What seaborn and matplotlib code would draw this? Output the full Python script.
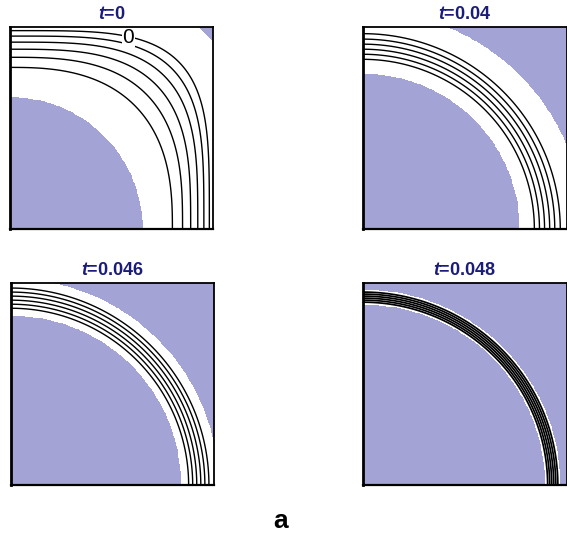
import numpy as np
import matplotlib
matplotlib.use("Agg")
import matplotlib.pyplot as plt
import seaborn as sns

# ---- data ----
time_labels = ["0", "0.04", "0.046", "0.048"]
contour_levels = [
    [0.80, 0.85, 0.89, 0.925, 0.955, 0.982],
    [0.84, 0.865, 0.89, 0.915, 0.94, 0.967],
    [0.875, 0.895, 0.915, 0.935, 0.955, 0.975],
    [0.905, 0.915, 0.925, 0.935, 0.945, 0.955],
]
# superellipse exponent of each level line (2 = circle)
line_exponents = [
    [2.6, 2.9, 3.2, 3.5, 3.8, 4.1],
    [2.0, 2.0, 2.0, 2.0, 2.0, 2.0],
    [2.0, 2.0, 2.0, 2.0, 2.0, 2.0],
    [2.0, 2.0, 2.0, 2.0, 2.0, 2.0],
]
inner_radius = [0.65, 0.765, 0.835, 0.89]
outer_radius = [1.366, 1.085, 1.024, 0.97]
level_label = "0"
panel_label = "a"

sns.set_theme(style="white")
plt.rcParams["font.family"] = ["Liberation Sans", "DejaVu Sans"]
plt.rcParams["mathtext.fontset"] = "custom"
plt.rcParams["mathtext.it"] = "Liberation Sans:italic:bold"
plt.rcParams["mathtext.rm"] = "Liberation Sans:bold"

W, H = 567, 534
fig = plt.figure(figsize=(W / 100, H / 100), dpi=100)
fig.patch.set_facecolor("white")

# axes boxes in pixels: (left, top, width, height)
boxes = [(10, 27, 203, 202), (363, 27, 204, 202),
         (11, 283, 203, 202), (363, 283, 204, 202)]
line_widths = [1.0, 1.0, 1.0, 1.25]

lav = "#A3A3D6"
title_color = "#1b1b7d"

n = 240
g = np.linspace(0, 1, n)
X, Y = np.meshgrid(g, g)
R = np.sqrt(X ** 2 + Y ** 2)

for i, (l, t, w, h) in enumerate(boxes):
    ax = fig.add_axes([l / W, (H - t - h) / H, w / W, h / H])
    mask = ((R < inner_radius[i]) | (R > outer_radius[i])).astype(float)
    ax.contourf(X, Y, mask, levels=[0.5, 1.5], colors=[lav])
    for lev, p in zip(contour_levels[i], line_exponents[i]):
        S = (X ** p + Y ** p) ** (1.0 / p)
        ax.contour(X, Y, S, levels=[lev], colors="black",
                   linewidths=line_widths[i])
    ax.set_xlim(0, 1)
    ax.set_ylim(0, 1)
    ax.set_xticks([])
    ax.set_yticks([])
    for side, sp in ax.spines.items():
        sp.set_visible(True)
        sp.set_color("black")
        sp.set_linewidth(1.3)
    ax.spines["left"].set_linewidth(2.0)
    ax.spines["bottom"].set_linewidth(1.6)
    ax.set_title(r"$t$=" + time_labels[i], color=title_color,
                 fontweight="bold", fontsize=13, pad=6)
    if i == 0:
        ax.text(0.583, 0.948, level_label, fontsize=15, ha="center",
                va="center", color="black",
                bbox=dict(facecolor="white", edgecolor="none", pad=0.3))

fig.text(281 / W, 1 - 521 / H, panel_label, fontsize=19,
         fontweight="bold", ha="center", va="center", color="black")

fig.savefig("out.png", dpi=100, facecolor="white")
